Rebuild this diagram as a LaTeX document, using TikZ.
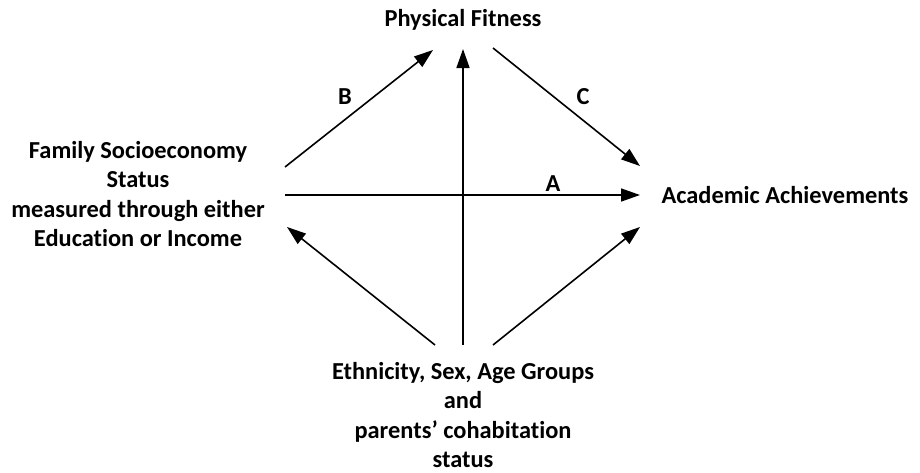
\documentclass[tikz,border=0pt]{standalone}
\usepackage{fontspec}
\setmainfont{Carlito}[Ligatures=NoCommon]
\usetikzlibrary{arrows.meta}
\tikzset{
  lbl/.style={font=\bfseries\fontsize{24.4}{29.2}\selectfont, align=center, inner sep=0pt},
  conn/.style={line width=1.6pt, -{Triangle[length=19pt,width=13pt]}}
}
\begin{document}
\begin{tikzpicture}[x=1pt,y=-1pt]
\useasboundingbox (0,0) rectangle (920,472);
\node[lbl] (pf) at (463,20) {Physical Fitness};
\node[lbl] (fs) at (138,194) {Family Socioeconomy\\Status\\measured through either\\Education or Income};
\node[lbl] (aa) at (785,195) {Academic Achievements};
\node[lbl] (eth) at (463,415) {Ethnicity, Sex, Age Groups\\and\\parents’ cohabitation\\status};
\coordinate (bS) at (285,167);
\coordinate (bE) at (433,50);
\coordinate (vS) at (463,345);
\coordinate (vE) at (463,49);
\coordinate (cS) at (493,48);
\coordinate (cE) at (640,166);
\coordinate (aS) at (285,195);
\coordinate (aE) at (640,195);
\coordinate (lS) at (435,345);
\coordinate (lE) at (287,227);
\coordinate (rS) at (493,345);
\coordinate (rE) at (640,227);
\draw[conn] (bS) -- (bE);
\draw[conn] (vS) -- (vE);
\draw[conn] (cS) -- (cE);
\draw[conn] (aS) -- (aE);
\draw[conn] (lS) -- (lE);
\draw[conn] (rS) -- (rE);
\node[lbl] (lb) at (345,97) {B};
\node[lbl] (lc) at (583,97) {C};
\node[lbl] (la) at (553,184) {A};
\end{tikzpicture}
\end{document}
